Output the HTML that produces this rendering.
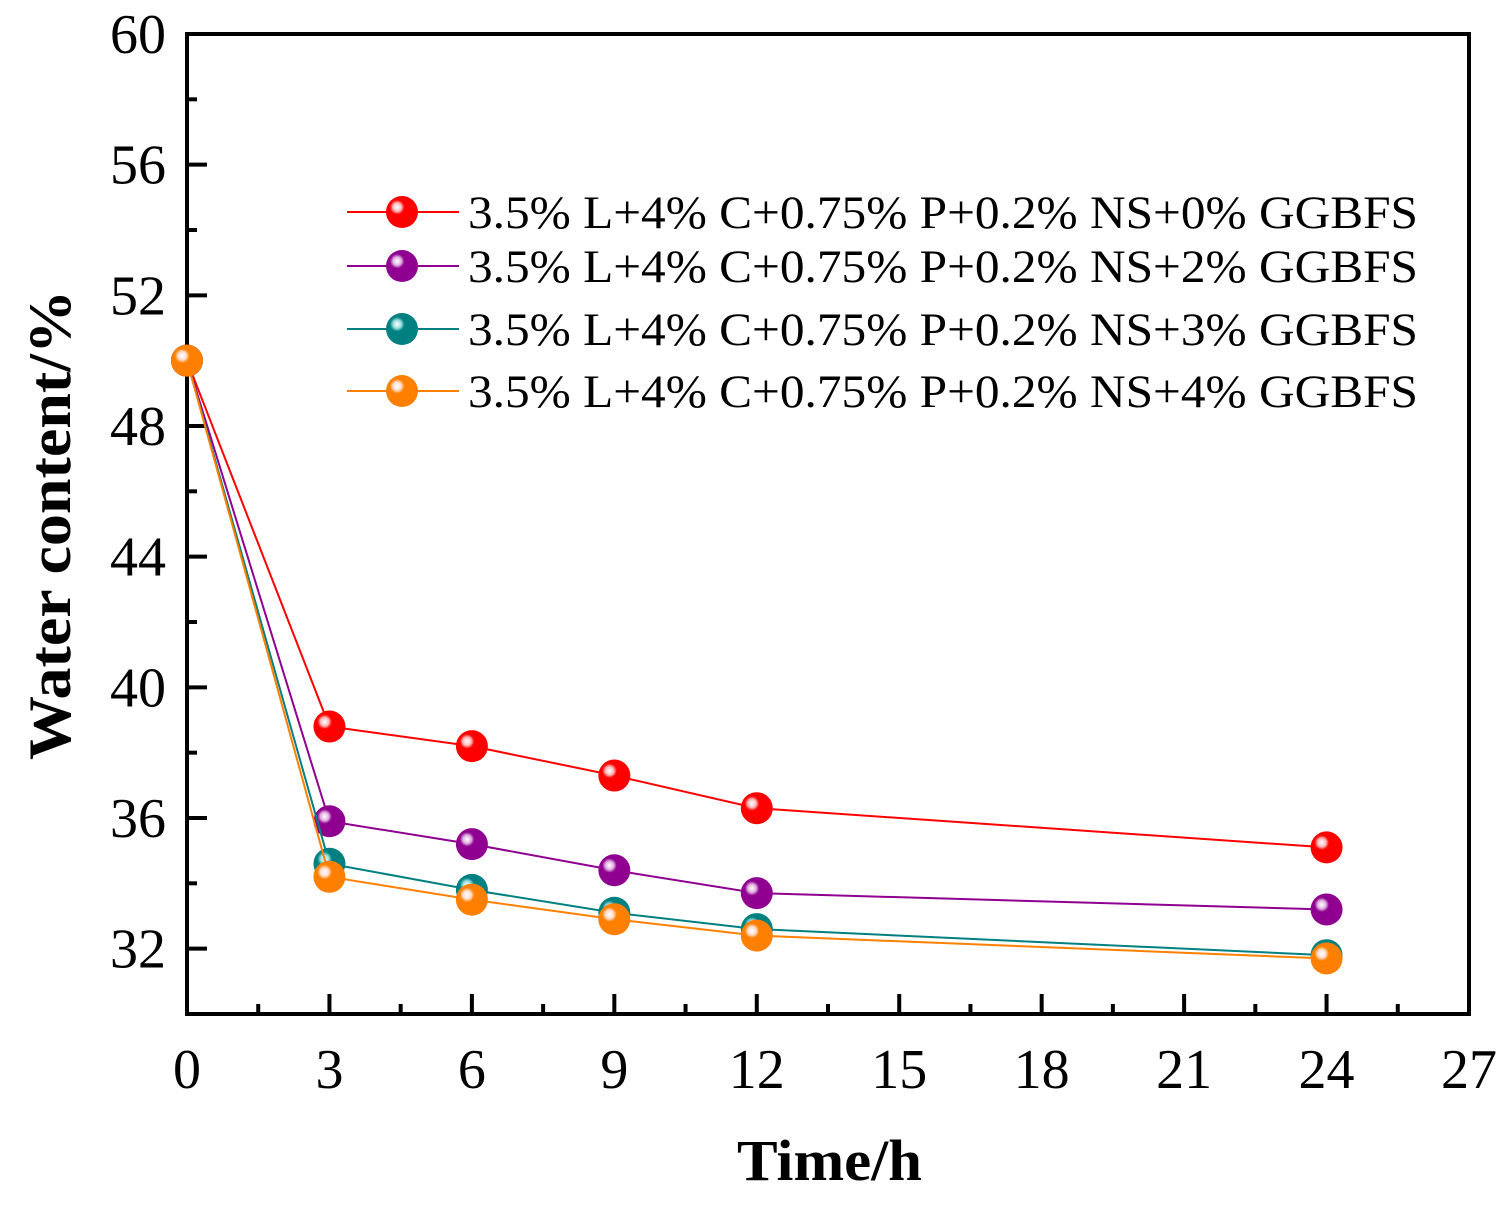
<!DOCTYPE html>
<html><head><meta charset="utf-8"><style>body{margin:0;background:#fff}svg{display:block}</style></head>
<body>
<svg id="chart" width="1511" height="1206" xmlns="http://www.w3.org/2000/svg" font-family="'Liberation Serif', serif">
<defs>
<radialGradient id="gred" cx="0.35" cy="0.35" r="0.65"><stop offset="0" stop-color="#fff"/><stop offset="0.2" stop-color="#fbb"/><stop offset="0.35" stop-color="#f00"/><stop offset="1" stop-color="#f00"/></radialGradient>
<radialGradient id="gpur" cx="0.35" cy="0.35" r="0.65"><stop offset="0" stop-color="#fff"/><stop offset="0.2" stop-color="#e0b0e0"/><stop offset="0.35" stop-color="#900090"/><stop offset="1" stop-color="#900090"/></radialGradient>
<radialGradient id="gteal" cx="0.35" cy="0.35" r="0.65"><stop offset="0" stop-color="#fff"/><stop offset="0.2" stop-color="#9dd"/><stop offset="0.35" stop-color="#008080"/><stop offset="1" stop-color="#008080"/></radialGradient>
<radialGradient id="gorg" cx="0.35" cy="0.35" r="0.65"><stop offset="0" stop-color="#fff"/><stop offset="0.2" stop-color="#fdc"/><stop offset="0.35" stop-color="#ff8000"/><stop offset="1" stop-color="#ff8000"/></radialGradient>
</defs>
<g id="axes"></g>
<g id="series"></g>
<g id="legend"></g>
</svg>
<script>
const times = [0, 3, 6, 9, 12, 24];
const seriesRed = [50, 38.8, 38.2, 37.3, 36.3, 35.1];
const seriesPurple = [50, 35.9, 35.2, 34.4, 33.7, 33.2];
const seriesTeal = [50, 34.6, 33.8, 33.1, 32.6, 31.8];
const seriesOrange = [50, 34.2, 33.5, 32.9, 32.4, 31.7];
const seriesLabels = ["3.5% L+4% C+0.75% P+0.2% NS+0% GGBFS","3.5% L+4% C+0.75% P+0.2% NS+2% GGBFS","3.5% L+4% C+0.75% P+0.2% NS+3% GGBFS","3.5% L+4% C+0.75% P+0.2% NS+4% GGBFS"];
const xTicks = [0, 3, 6, 9, 12, 15, 18, 21, 24, 27];
const yTicks = [32, 36, 40, 44, 48, 52, 56, 60];

const NS = "http://www.w3.org/2000/svg";
const L = 187, R = 1469, T = 34, B = 1014;
const xMin = 0, xMax = 27, yMin = 30, yMax = 60;
function sx(v){ return L + (v - xMin) / (xMax - xMin) * (R - L); }
function sy(v){ return B - (v - yMin) / (yMax - yMin) * (B - T); }
function mk(tag, attrs, parent){ const e = document.createElementNS(NS, tag); for (const k in attrs) e.setAttribute(k, attrs[k]); parent.appendChild(e); return e; }

const axes = document.getElementById('axes');
const frame = mk('rect', {x:L, y:T, width:R-L, height:B-T, fill:'none', stroke:'#000', 'stroke-width':4}, axes);


xTicks.forEach((t, i) => {
  const x = sx(t);
  mk('line', {x1:x, y1:B, x2:x, y2:B-20, stroke:'#000', 'stroke-width':4}, axes);
  if (i < xTicks.length - 1) { const xm = sx(t + 1.5); mk('line', {x1:xm, y1:B, x2:xm, y2:B-10, stroke:'#000', 'stroke-width':4}, axes); }
  const tx = mk('text', {x:x, y:1088, 'font-size':56, 'text-anchor':'middle'}, axes);
  tx.textContent = t;
  
  
});
const yMinor = [30, 34, 38, 42, 46, 50, 54, 58];
yMinor.forEach(v => { const y = sy(v); mk('line', {x1:L, y1:y, x2:L+10, y2:y, stroke:'#000', 'stroke-width':4}, axes); });
yTicks.forEach(t => {
  const y = sy(t);
  mk('line', {x1:L, y1:y, x2:L+20, y2:y, stroke:'#000', 'stroke-width':4}, axes);
  const ty = mk('text', {x:166, y:y+19, 'font-size':56, 'text-anchor':'end'}, axes);
  ty.textContent = t;
  
  
});
const xt = mk('text', {x:737, y:1180, 'font-size':58, 'font-weight':'bold', textLength:185, lengthAdjust:'spacingAndGlyphs'}, axes);
xt.textContent = 'Time/h';


const yt = mk('text', {x:-235, y:0, 'font-size':60, 'font-weight':'bold', textLength:470, lengthAdjust:'spacingAndGlyphs', transform:'translate(70,525) rotate(-90)'}, axes);
yt.textContent = 'Water content/%';



const all = [[seriesRed,'#ff0000','gred'],[seriesPurple,'#900090','gpur'],[seriesTeal,'#008080','gteal'],[seriesOrange,'#ff8000','gorg']];
const sg = document.getElementById('series');
const names = ['series-0-ggbfs','series-2-ggbfs','series-3-ggbfs','series-4-ggbfs'];
all.forEach((s, i) => {
  const g = mk('g', {}, sg);
  
  
  const pts = times.map((t, j) => sx(t) + ',' + sy(s[0][j])).join(' ');
  mk('polyline', {points:pts, fill:'none', stroke:s[1], 'stroke-width':2}, g);
  times.forEach((t, j) => {
    const c = mk('circle', {cx:sx(t), cy:sy(s[0][j]), r:16, fill:'url(#'+s[2]+')'}, g);
    
    
  });
});

const lg = document.getElementById('legend');
const rowsY = [212, 266, 329, 391];
all.forEach((s, i) => {
  const g = mk('g', {}, lg);
  
  
  const y = rowsY[i];
  mk('line', {x1:347, y1:y, x2:459, y2:y, stroke:s[1], 'stroke-width':2}, g);
  mk('circle', {cx:402, cy:y, r:16, fill:'url(#'+s[2]+')'}, g);
  const tx = mk('text', {x:468, y:y+16, 'font-size':47, textLength:950, lengthAdjust:'spacingAndGlyphs'}, g);
  tx.textContent = seriesLabels[i];
});
</script>
</body></html>
